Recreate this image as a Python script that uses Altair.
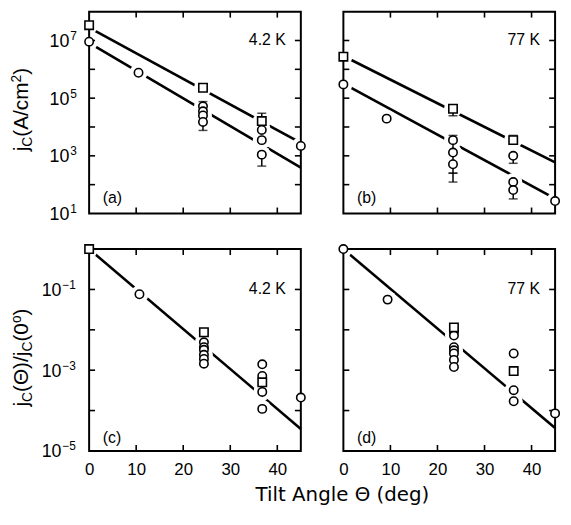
import altair as alt
import pandas as pd

W, H = 214, 204
FONT = "Liberation Sans"

X_DOMAIN = [0, 45]
X_TICKS = [10, 20, 30, 40]
X_LABELS = [0, 10, 20, 30, 40]

TOP_DOMAIN = [1e1, 1e8]
TOP_TICKS = [1e2, 1e3, 1e4, 1e5, 1e6, 1e7]
TOP_EXP = ["1", "3", "5", "7"]
TOP_EXP_V = [1e1, 1e3, 1e5, 1e7]
BOT_DOMAIN = [1e-5, 1]
BOT_TICKS = [1e-1, 1e-2, 1e-3, 1e-4]
BOT_EXP = ["\u22121", "\u22123", "\u22125"]
BOT_EXP_V = [1e-1, 1e-3, 1e-5]

# ---- panel (a): jc at 4.2 K ----
a_sq_x = [0, 24.2, 36.7]
a_sq_y = [3.4e7, 2.3e5, 1.6e4]
a_ci_x = [0, 10.5, 24.2, 24.2, 24.2, 24.2, 36.7, 36.7, 36.7, 45]
a_ci_y = [9.1e6, 7.6e5, 5.2e4, 3.5e4, 2.5e4, 1.5e4, 7.9e3, 3.5e3, 1.1e3, 2.2e3]
a_fit_x = [0, 45, 0, 45]
a_fit_y = [2.8e7, 2.8e3, 8.3e6, 390]
a_fit_g = ["sq", "sq", "ci", "ci"]
a_err_x = [24.2, 36.7, 36.7]
a_err_lo = [7.6e3, 1.6e4, 440]
a_err_hi = [7.6e4, 3.0e4, 1.1e3]

# ---- panel (b): jc at 77 K ----
b_sq_x = [0, 23.3, 36.1]
b_sq_y = [2.75e6, 4.3e4, 3.5e3]
b_ci_x = [0, 9.2, 23.3, 23.3, 23.3, 36.1, 36.1, 36.1, 45]
b_ci_y = [3.0e5, 1.95e4, 3.5e3, 1.3e3, 510, 1.0e3, 123, 65, 27]
b_fit_x = [0, 45, 0, 45]
b_fit_y = [2.9e6, 590, 3.2e5, 33]
b_fit_g = ["sq", "sq", "ci", "ci"]
b_err_x = [23.3, 23.3, 23.3, 36.1, 36.1, 36.1]
b_err_lo = [2.45e4, 123, 250, 3.5e3, 550, 32]
b_err_hi = [4.3e4, 5.1e3, 250, 5.1e3, 1.0e3, 65]

# ---- panel (c): normalized, 4.2 K ----
c_sq_x = [0, 24.4, 36.8]
c_sq_y = [1.0, 8.7e-3, 5.0e-4]
c_ci_x = [10.7, 24.4, 24.4, 24.4, 24.4, 24.4, 24.4, 36.8, 36.8, 36.8, 36.8, 45]
c_ci_y = [0.076, 4.9e-3, 3.7e-3, 3.2e-3, 2.4e-3, 1.9e-3, 1.45e-3,
          1.4e-3, 7.2e-4, 2.9e-4, 1.1e-4, 2.1e-4]
c_fit_x = [0, 45]
c_fit_y = [1.0, 3.5e-5]
c_fit_g = ["all", "all"]

# ---- panel (d): normalized, 77 K ----
d_sq_x = [23.5, 36.2]
d_sq_y = [1.15e-2, 9.5e-4]
d_ci_x = [0, 9.4, 23.5, 23.5, 23.5, 23.5, 23.5, 23.5, 23.5, 36.2, 36.2, 36.2, 45]
d_ci_y = [1.0, 0.056, 8.9e-3, 7.2e-3, 3.7e-3, 3.1e-3, 2.6e-3, 1.8e-3, 1.2e-3,
          2.6e-3, 3.2e-4, 1.7e-4, 8.5e-5]
d_fit_x = [0, 45]
d_fit_y = [1.0, 3.7e-5]
d_fit_g = ["all", "all"]

# Arial / Liberation Sans advance widths (per 1000 em)
AW = {"j": 222, "C": 722, "(": 333, ")": 333, "A": 667, "/": 278, "c": 500,
      "m": 833, "2": 556, "\u0398": 778, "0": 556, "o": 556}


def xenc(field, show):
    if show:
        axis = alt.Axis(values=X_LABELS, ticks=False, tickSize=0, domain=False, grid=False,
                        title=None, labelFont=FONT, labelFontSize=17, labelColor="black",
                        labelPadding=11, labelFlush=False)
    else:
        axis = None
    return alt.X(field, type="quantitative",
                 scale=alt.Scale(domain=X_DOMAIN, nice=False, zero=False), axis=axis)


def yenc(field, dom):
    return alt.Y(field, type="quantitative",
                 scale=alt.Scale(type="log", domain=dom, nice=False), axis=None)


def title_layers(pieces, x0, y0):
    layers = []
    off = 0.0
    for txt, fs, dy in pieces:
        layers.append(
            alt.Chart(pd.DataFrame({"t": [txt]})).mark_text(
                angle=270, align="left", baseline="alphabetic", dx=off, dy=dy,
                fontSize=fs, font=FONT, color="black"
            ).encode(x=alt.value(x0), y=alt.value(y0), text="t:N")
        )
        off += sum(AW[ch] for ch in txt) * fs / 1000.0
    return layers


def panel(sq_x, sq_y, ci_x, ci_y, fit_x, fit_y, fit_g, err_x, err_lo, err_hi,
          dom, yticks, temp, temp_y, tag, tag_y, show_x,
          exp_txt=None, exp_v=None, lab_x=None, title=None, title_xy=None, xtitle=False):
    X = lambda f: xenc(f, show_x)
    Y = lambda f: yenc(f, dom)

    fits = pd.DataFrame({"x": fit_x, "y": fit_y, "g": fit_g})
    sq = pd.DataFrame({"x": sq_x, "y": sq_y})
    ci = pd.DataFrame({"x": ci_x, "y": ci_y})
    allpts = pd.concat([sq, ci], ignore_index=True)

    layers = []
    layers.append(alt.Chart(fits).mark_line(color="black", strokeWidth=2.6).encode(
        x=X("x"), y=Y("y"), detail="g:N"))
    # white gaps around the symbols
    layers.append(alt.Chart(allpts).mark_point(shape="circle", filled=True, fill="white",
                                               color="white", strokeWidth=0, size=330,
                                               opacity=1, clip=True).encode(
        x=X("x"), y=Y("y")))
    # frame
    layers.append(alt.Chart(pd.DataFrame({"k": [0]})).mark_rect(
        filled=False, stroke="black", strokeWidth=2).encode(
        x=alt.value(0), x2=alt.value(W), y=alt.value(0), y2=alt.value(H)))
    # inward ticks
    xt = pd.DataFrame({"v": X_TICKS})
    yt = pd.DataFrame({"v": yticks})
    layers.append(alt.Chart(xt).mark_rule(color="black", strokeWidth=1.6).encode(
        x=X("v"), y=alt.value(0), y2=alt.value(6)))
    layers.append(alt.Chart(xt).mark_rule(color="black", strokeWidth=1.6).encode(
        x=X("v"), y=alt.value(H - 6), y2=alt.value(H)))
    layers.append(alt.Chart(yt).mark_rule(color="black", strokeWidth=1.6).encode(
        y=Y("v"), x=alt.value(0), x2=alt.value(6)))
    layers.append(alt.Chart(yt).mark_rule(color="black", strokeWidth=1.6).encode(
        y=Y("v"), x=alt.value(W - 6), x2=alt.value(W)))
    # error bars
    if err_x:
        err = pd.DataFrame({"x": err_x, "lo": err_lo, "hi": err_hi})
        caps = pd.DataFrame({"x": err_x + err_x, "y": err_lo + err_hi})
        layers.append(alt.Chart(err).mark_rule(color="black", strokeWidth=1.5).encode(
            x=X("x"), y=Y("lo"), y2=alt.Y2("hi")))
        layers.append(alt.Chart(caps).mark_tick(orient="horizontal", color="black",
                                                size=9, thickness=1.5).encode(
            x=X("x"), y=Y("y")))
    # symbols
    layers.append(alt.Chart(ci).mark_point(shape="circle", filled=True, fill="white",
                                           stroke="black", strokeWidth=1.6, size=72,
                                           opacity=1).encode(x=X("x"), y=Y("y")))
    layers.append(alt.Chart(sq).mark_point(shape="square", filled=True, fill="white",
                                           stroke="black", strokeWidth=1.6, size=72,
                                           opacity=1).encode(x=X("x"), y=Y("y")))
    # annotations
    layers.append(alt.Chart(pd.DataFrame({"x": [41.8], "y": [temp_y], "t": [temp]})).mark_text(
        align="right", baseline="middle", fontSize=16, font=FONT, color="black").encode(
        x=X("x"), y=Y("y"), text="t:N"))
    layers.append(alt.Chart(pd.DataFrame({"x": [2.9], "y": [tag_y], "t": [tag]})).mark_text(
        align="left", baseline="middle", fontSize=16, font=FONT, color="black").encode(
        x=X("x"), y=Y("y"), text="t:N"))
    # y tick labels 10^n
    if exp_txt is not None:
        lab = pd.DataFrame({"v": exp_v, "e": exp_txt})
        layers.append(alt.Chart(lab).mark_text(
            align="right", baseline="middle", dy=1.5, fontSize=18, font=FONT, color="black"
        ).encode(x=alt.value(lab_x), y=Y("v"), text=alt.value("10")))
        layers.append(alt.Chart(lab).mark_text(
            align="left", baseline="middle", dy=-4.5, fontSize=12, font=FONT, color="black"
        ).encode(x=alt.value(lab_x + 1), y=Y("v"), text="e:N"))
    if title is not None:
        layers += title_layers(title, title_xy[0], title_xy[1])
    if xtitle:
        layers.append(alt.Chart(pd.DataFrame({"t": ["Tilt Angle \u0398 (deg)"]})).mark_text(
            align="center", baseline="alphabetic", fontSize=20, font="DejaVu Sans",
            color="black").encode(x=alt.value(256), y=alt.value(255), text="t:N"))
    return alt.layer(*layers).properties(width=W, height=H)


title_a = [("j", 21, 0), ("C", 14, 4), ("(A/cm", 21, 0), ("2", 14, -7), (")", 21, 0)]
title_c = [("j", 21, 0), ("C", 14, 4), ("(\u0398)/j", 21, 0), ("C", 14, 4), ("(0", 21, 0),
           ("o", 14, -7), (")", 21, 0)]

pa = panel(a_sq_x, a_sq_y, a_ci_x, a_ci_y, a_fit_x, a_fit_y, a_fit_g,
           a_err_x, a_err_lo, a_err_hi, TOP_DOMAIN, TOP_TICKS,
           "4.2 K", 1e7, "(a)", 35.5, False,
           exp_txt=TOP_EXP, exp_v=TOP_EXP_V, lab_x=-20, title=title_a, title_xy=(-62, 141.2))
pb = panel(b_sq_x, b_sq_y, b_ci_x, b_ci_y, b_fit_x, b_fit_y, b_fit_g,
           b_err_x, b_err_lo, b_err_hi, TOP_DOMAIN, TOP_TICKS,
           "77 K", 1e7, "(b)", 35.5, False)
pc = panel(c_sq_x, c_sq_y, c_ci_x, c_ci_y, c_fit_x, c_fit_y, c_fit_g,
           [], [], [], BOT_DOMAIN, BOT_TICKS,
           "4.2 K", 0.1, "(c)", 2.1e-5, True,
           exp_txt=BOT_EXP, exp_v=BOT_EXP_V, lab_x=-28, title=title_c, title_xy=(-62, 159.2),
           xtitle=True)
pd_ = panel(d_sq_x, d_sq_y, d_ci_x, d_ci_y, d_fit_x, d_fit_y, d_fit_g,
            [], [], [], BOT_DOMAIN, BOT_TICKS,
            "77 K", 0.1, "(d)", 2.1e-5, True)

chart = alt.concat(pa, pb, pc, pd_, columns=2, spacing={"row": 36, "column": 43},
                   bounds="flush").configure_view(stroke=None).properties(
    padding={"left": 2, "top": 0, "right": 0, "bottom": 0})

chart.save("out.html", embed_options={"renderer": "svg", "actions": False})
